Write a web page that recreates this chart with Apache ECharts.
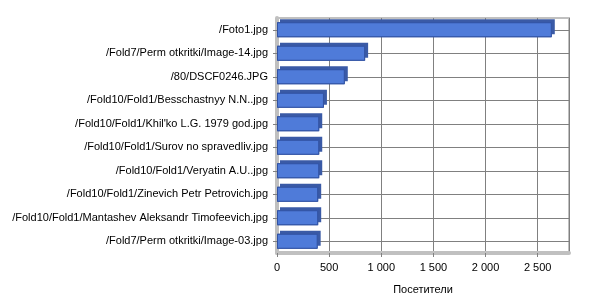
<!DOCTYPE html>
<html><head><meta charset="utf-8">
<script src="https://cdn.jsdelivr.net/npm/echarts@6/dist/echarts.min.js"></script>
<style>html,body{margin:0;padding:0;background:#fff}#c{width:600px;height:300px}</style>
</head><body><div id="c"></div>
<script>
const categories = [
  "/Foto1.jpg",
  "/Fold7/Perm otkritki/Image-14.jpg",
  "/80/DSCF0246.JPG",
  "/Fold10/Fold1/Besschastnyy N.N..jpg",
  "/Fold10/Fold1/Khil'ko L.G. 1979 god.jpg",
  "/Fold10/Fold1/Surov no spravedliv.jpg",
  "/Fold10/Fold1/Veryatin A.U..jpg",
  "/Fold10/Fold1/Zinevich Petr Petrovich.jpg",
  "/Fold10/Fold1/Mantashev Aleksandr Timofeevich.jpg",
  "/Fold7/Perm otkritki/Image-03.jpg"
];
const visitors = [2635, 845, 650, 450, 405, 405, 405, 395, 395, 390];
const axisName = "Посетители";

const chart = echarts.init(document.getElementById('c'), null, {renderer: 'canvas'});
const font = "Liberation Sans";
chart.setOption({
  animation: false,
  backgroundColor: '#fff',
  grid: {left: 277, right: 31, top: 18, bottom: 45, show: true, borderColor: '#c0c0c0', borderWidth: 2, backgroundColor: '#fff'},
  xAxis: {
    type: 'value', min: 0, max: 2800, interval: 500,
    name: axisName, nameLocation: 'middle', nameGap: 31,
    nameTextStyle: {fontFamily: font, fontSize: 11, color: '#000'},
    axisLine: {show: true, lineStyle: {color: '#c0c0c0', width: 4}},
    axisTick: {show: true, length: 4, lineStyle: {color: '#808080'}},
    axisLabel: {fontFamily: font, fontSize: 11, color: '#000', margin: 9, showMaxLabel: false,
      formatter: v => String(v).replace(/\B(?=(\d{3})+(?!\d))/g, ' ')},
    splitLine: {show: true, lineStyle: {color: '#808080', width: 1}}
  },
  yAxis: {
    type: 'category', data: categories, inverse: true,
    axisLine: {show: true, lineStyle: {color: '#c0c0c0', width: 4}},
    axisTick: {show: true, alignWithLabel: true, length: 4, lineStyle: {color: '#808080'}},
    axisLabel: {fontFamily: font, fontSize: 11, color: '#000', margin: 9},
    splitLine: {show: true, alignWithLabel: true, lineStyle: {color: '#808080', width: 1}}
  },
  series: [{
    type: 'bar', data: visitors, barWidth: 15, silent: true,
    itemStyle: {color: '#3d5da8', shadowColor: '#3a5aa6', shadowOffsetX: 3, shadowOffsetY: -3, shadowBlur: 0}
  }, {
    type: 'bar', data: visitors, barWidth: 15, barGap: '-100%',
    itemStyle: {color: '#4f7bd9', borderColor: '#3152a3', borderWidth: 1}
  }]
});
</script></body></html>
